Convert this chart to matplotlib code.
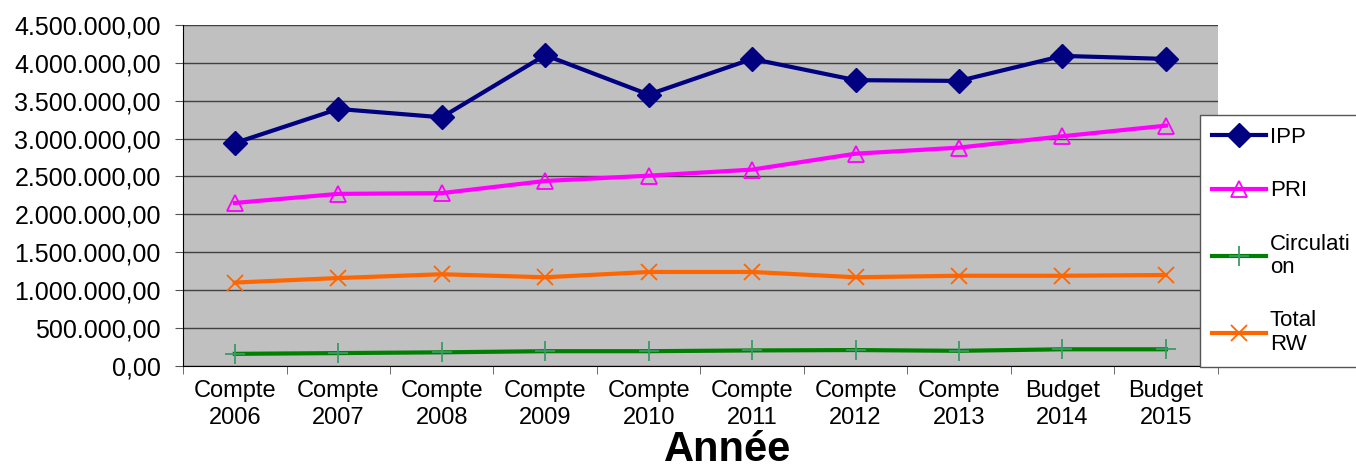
import matplotlib
matplotlib.use("Agg")
import matplotlib.pyplot as plt
from matplotlib.ticker import FuncFormatter, FixedLocator

plt.rcParams['font.family'] = ['Liberation Sans', 'DejaVu Sans']

#categories and series values
categories = ["Compte\n2006", "Compte\n2007", "Compte\n2008", "Compte\n2009", "Compte\n2010",
              "Compte\n2011", "Compte\n2012", "Compte\n2013", "Budget\n2014", "Budget\n2015"]
ipp = [2940000, 3390000, 3280000, 4100000, 3580000, 4050000, 3770000, 3760000, 4090000, 4050000]
pri = [2150000, 2270000, 2280000, 2440000, 2510000, 2590000, 2800000, 2880000, 3030000, 3170000]
circulation = [160000, 170000, 180000, 195000, 195000, 205000, 210000, 200000, 220000, 220000]
total_rw = [1100000, 1160000, 1210000, 1170000, 1240000, 1240000, 1170000, 1190000, 1190000, 1200000]

#european number format 4.500.000,00
def fmt_eu(v, pos):
    s = f"{v:,.2f}"
    return s.replace(",", "X").replace(".", ",").replace("X", ".")

fig = plt.figure(figsize=(13.56, 4.68), dpi=100)
ax = fig.add_axes([0.135, 0.218, 0.763, 0.729])
ax.set_facecolor("#c0c0c0")

x = list(range(len(categories)))
ax.plot(x, ipp, color="#000080", lw=3, marker="D", ms=12, label="IPP", zorder=5)
ax.plot(x, pri, color="#ff00ff", lw=3, marker="^", ms=12, mfc="none", mec="#ff00ff", mew=1.3, label="PRI", zorder=5)
ax.plot(x, circulation, color="#008000", lw=3, marker="+", ms=15, mec="#3c9a68", mew=1.3, label="Circulati\non", zorder=5)
ax.plot(x, total_rw, color="#ff6600", lw=3, marker="x", ms=12, mec="#ff6600", mew=1.3, label="Total\nRW", zorder=5)

ax.set_xlim(-0.5, len(categories) - 0.5)
ax.set_ylim(0, 4500000)
ax.set_yticks([i * 500000 for i in range(10)])
ax.yaxis.set_major_formatter(FuncFormatter(fmt_eu))
ax.grid(axis="y", color="#404040", lw=1)
ax.set_axisbelow(True)

ax.set_xticks(x)
ax.set_xticklabels(categories, fontsize=17, linespacing=1.3)
ax.tick_params(axis="x", which="major", length=0, pad=10)
ax.xaxis.set_minor_locator(FixedLocator([i - 0.5 for i in range(len(categories) + 1)]))
ax.tick_params(axis="x", which="minor", length=6, color="#555555")
ax.tick_params(axis="y", labelsize=18, length=6, pad=10, color="#555555")

for side in ["top", "right"]:
    ax.spines[side].set_visible(False)
ax.spines["left"].set_color("black")
ax.spines["bottom"].set_color("black")

fig.text(728 / 1356, 0.014, "Année", fontsize=30, fontweight="bold", ha="center", va="baseline")

leg = fig.legend(loc="upper left", bbox_to_anchor=(1200 / 1356, 1 - 115 / 468), fontsize=16,
                 frameon=True, fancybox=False, edgecolor="#555555", framealpha=1,
                 handlelength=2.4, handletextpad=0.2, labelspacing=1.45, borderpad=0.55,
                 borderaxespad=0)
leg.get_frame().set_linewidth(1)
for t in leg.get_texts():
    t.set_linespacing(1.15)

fig.savefig("out.png", dpi=100)
